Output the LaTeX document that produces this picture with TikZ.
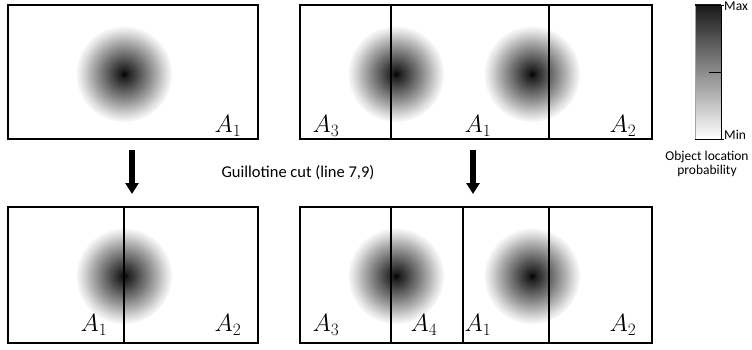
\documentclass[tikz,border=0pt]{standalone}
\usepackage{fontspec}
\setsansfont{Carlito}
\usetikzlibrary{arrows.meta}
\pgfdeclareradialshading{blob}{\pgfpoint{0bp}{0bp}}{color(0bp)=(black); color(2bp)=(black!88); color(9bp)=(black!62); color(17bp)=(black!32); color(22bp)=(black!12); color(25bp)=(black!2); color(25.2bp)=(white); color(50bp)=(white)}
\begin{document}
\begin{tikzpicture}[x=1pt, y=-1pt,
  box/.style={line width=2.8pt},
  cut/.style={line width=2.4pt},
  peak/.style={shading=blob},
  area/.style={font=\fontsize{24}{24}\selectfont},
  note/.style={font=\sffamily\fontsize{16.5}{18}\selectfont},
  small/.style={font=\sffamily\fontsize{13.5}{16}\selectfont, align=center},
  down/.style={line width=6pt, -{Triangle[width=13pt, length=11pt]}}]
  \useasboundingbox (0,0) rectangle (752,350);
  % probability peaks
  \shade[peak] (124,74) circle (48);
  \shade[peak] (396,74) circle (48);
  \shade[peak] (532,74) circle (48);
  \shade[peak] (124,276) circle (48);
  \shade[peak] (396,276) circle (48);
  \shade[peak] (532,276) circle (48);
  % areas before the cut
  \draw[box] (8,5) rectangle (258,139);
  \draw[box] (300,5) rectangle (652,139);
  \draw[cut] (391,5) -- (391,139);
  \draw[cut] (549,5) -- (549,139);
  \node[area] (tl1) at (228,126) {$A_1$};
  \node[area] (tr3) at (326,126) {$A_3$};
  \node[area] (tr1) at (478,126) {$A_1$};
  \node[area] (tr2) at (623,126) {$A_2$};
  % areas after the cut
  \draw[box] (8,207) rectangle (258,343);
  \draw[cut] (124,207) -- (124,343);
  \draw[box] (300,207) rectangle (652,343);
  \draw[cut] (391,207) -- (391,343);
  \draw[cut] (463,207) -- (463,343);
  \draw[cut] (549,207) -- (549,343);
  \node[area] (bl1) at (94,325) {$A_1$};
  \node[area] (bl2) at (228,325) {$A_2$};
  \node[area] (br3) at (326,325) {$A_3$};
  \node[area] (br4) at (424,325) {$A_4$};
  \node[area] (br1) at (478,325) {$A_1$};
  \node[area] (br2) at (623,325) {$A_2$};
  % cut arrows
  \coordinate (la) at (132,150);
  \coordinate (lb) at (132,194);
  \coordinate (ra) at (473,150);
  \coordinate (rb) at (473,194);
  \draw[down] (la) -- (lb);
  \draw[down] (ra) -- (rb);
  \node[note] (cutlbl) at (298,173) {Guillotine cut (line 7,9)};
  % colour bar
  \shade[top color=black!90, bottom color=white] (695,5) rectangle (721,139);
  \draw[gray!70, thin] (695,5) -- (695,139);
  \draw[thick] (695,5) -- (724,5);
  \draw[thick] (695,139) -- (724,139);
  \draw[thick] (721,5) -- (721,139);
  \draw[thick] (709,72) -- (722,72);
  \node[small, anchor=west, inner sep=1pt] (mx) at (723,6) {Max};
  \node[small, anchor=west, inner sep=1pt] (mn) at (723,135) {Min};
  \node[small] (cbar) at (707,164) {Object location\\[-2pt]probability};
\end{tikzpicture}
\end{document}
